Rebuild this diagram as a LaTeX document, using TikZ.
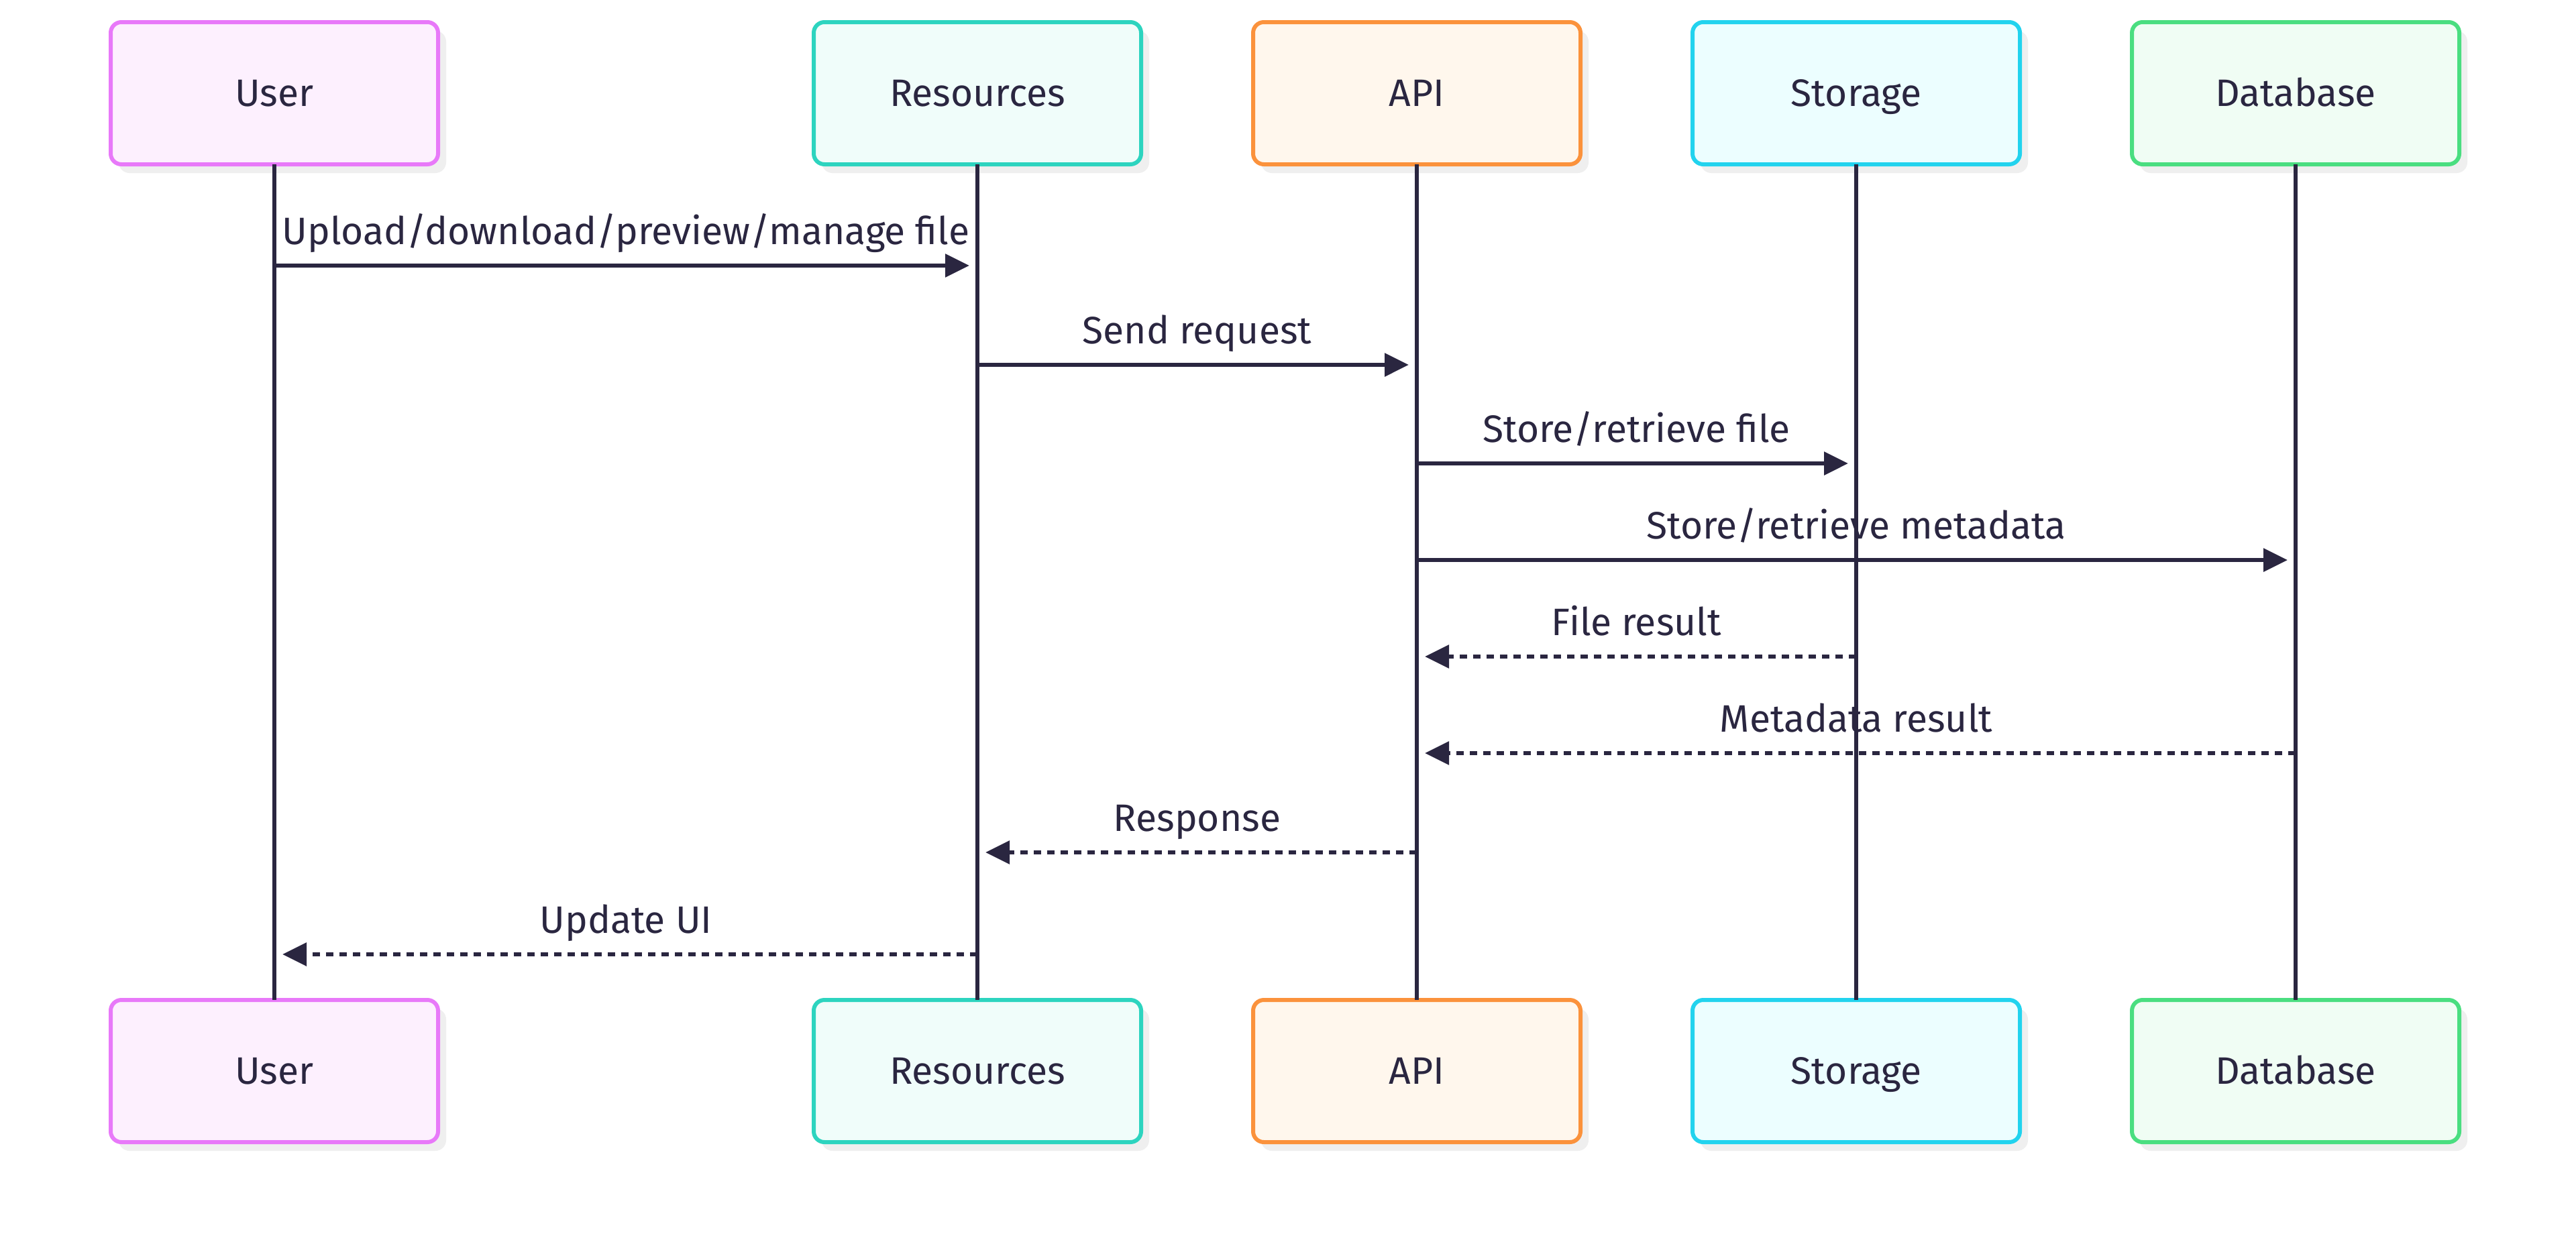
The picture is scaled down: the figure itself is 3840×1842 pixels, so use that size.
\documentclass[tikz,border=0pt]{standalone}
\usepackage{fontspec}
\setmainfont{Fira Sans}
\usetikzlibrary{arrows.meta,shadows}
\definecolor{ink}{HTML}{2A2640}
\definecolor{shadowgray}{HTML}{EFEFEF}
\definecolor{userB}{HTML}{E879F9}\definecolor{userF}{HTML}{FDF0FE}
\definecolor{resB}{HTML}{2DD4BF}\definecolor{resF}{HTML}{F0FDFA}
\definecolor{apiB}{HTML}{FB923C}\definecolor{apiF}{HTML}{FFF7ED}
\definecolor{stoB}{HTML}{22D3EE}\definecolor{stoF}{HTML}{ECFEFF}
\definecolor{dbB}{HTML}{4ADE80}\definecolor{dbF}{HTML}{F0FDF4}
\tikzset{
  actorbox/.style 2 args={draw=#1, fill=#2, line width=6pt, rounded corners=16pt,
    minimum width=488pt, minimum height=212pt, outer sep=0pt, text=ink,
    text height=44pt, text depth=6pt,
    font=\fontsize{57pt}{68pt}\selectfont,
    drop shadow={shadow xshift=12pt, shadow yshift=-13pt, fill=shadowgray, opacity=1}},
  lifeline/.style={draw=ink, line width=6pt},
  msg/.style={draw=ink, line width=6pt, -{Triangle[length=36pt,width=34pt]}, shorten >=12pt},
  reply/.style={msg, dash pattern=on 11pt off 9pt},
  lbl/.style={midway, anchor=base, yshift=32pt, text=ink, font=\fontsize{57pt}{68pt}\selectfont, inner sep=0pt}
}
\begin{document}
\begin{tikzpicture}[x=1pt,y=-1pt]
\useasboundingbox[fill=white] (0,0) rectangle (3840,1842);
% top boxes
\node[actorbox={userB}{userF}] (userT) at (409,139) {User};
\node[actorbox={resB}{resF}] (resT) at (1457,139) {Resources};
\node[actorbox={apiB}{apiF}] (apiT) at (2112,139) {API};
\node[actorbox={stoB}{stoF}] (stoT) at (2767,139) {Storage};
\node[actorbox={dbB}{dbF}] (dbT) at (3422,139) {Database};
% bottom boxes
\node[actorbox={userB}{userF}] (userB) at (409,1597) {User};
\node[actorbox={resB}{resF}] (resB) at (1457,1597) {Resources};
\node[actorbox={apiB}{apiF}] (apiB) at (2112,1597) {API};
\node[actorbox={stoB}{stoF}] (stoB) at (2767,1597) {Storage};
\node[actorbox={dbB}{dbF}] (dbB) at (3422,1597) {Database};
% lifelines
\draw[lifeline] (userT.south) -- (userB.north);
\draw[lifeline] (resT.south) -- (resB.north);
\draw[lifeline] (apiT.south) -- (apiB.north);
\draw[lifeline] (stoT.south) -- (stoB.north);
\draw[lifeline] (dbT.south) -- (dbB.north);
% message rows
\coordinate (r1) at (0,396);
\coordinate (r2) at (0,544);
\coordinate (r3) at (0,691);
\coordinate (r4) at (0,835);
\coordinate (r5) at (0,979);
\coordinate (r6) at (0,1123);
\coordinate (r7) at (0,1271);
\coordinate (r8) at (0,1423);
\draw[msg] (userT |- r1) -- node[lbl] {Upload/download/preview/manage file} (resT |- r1);
\draw[msg] (resT |- r2) -- node[lbl] {Send request} (apiT |- r2);
\draw[msg] (apiT |- r3) -- node[lbl] {Store/retrieve file} (stoT |- r3);
\draw[msg] (apiT |- r4) -- node[lbl] {Store/retrieve metadata} (dbT |- r4);
\draw[reply] (stoT |- r5) -- node[lbl] {File result} (apiT |- r5);
\draw[reply] (dbT |- r6) -- node[lbl] {Metadata result} (apiT |- r6);
\draw[reply] (apiT |- r7) -- node[lbl] {Response} (resT |- r7);
\draw[reply] (resT |- r8) -- node[lbl] {Update UI} (userT |- r8);
\end{tikzpicture}
\end{document}
